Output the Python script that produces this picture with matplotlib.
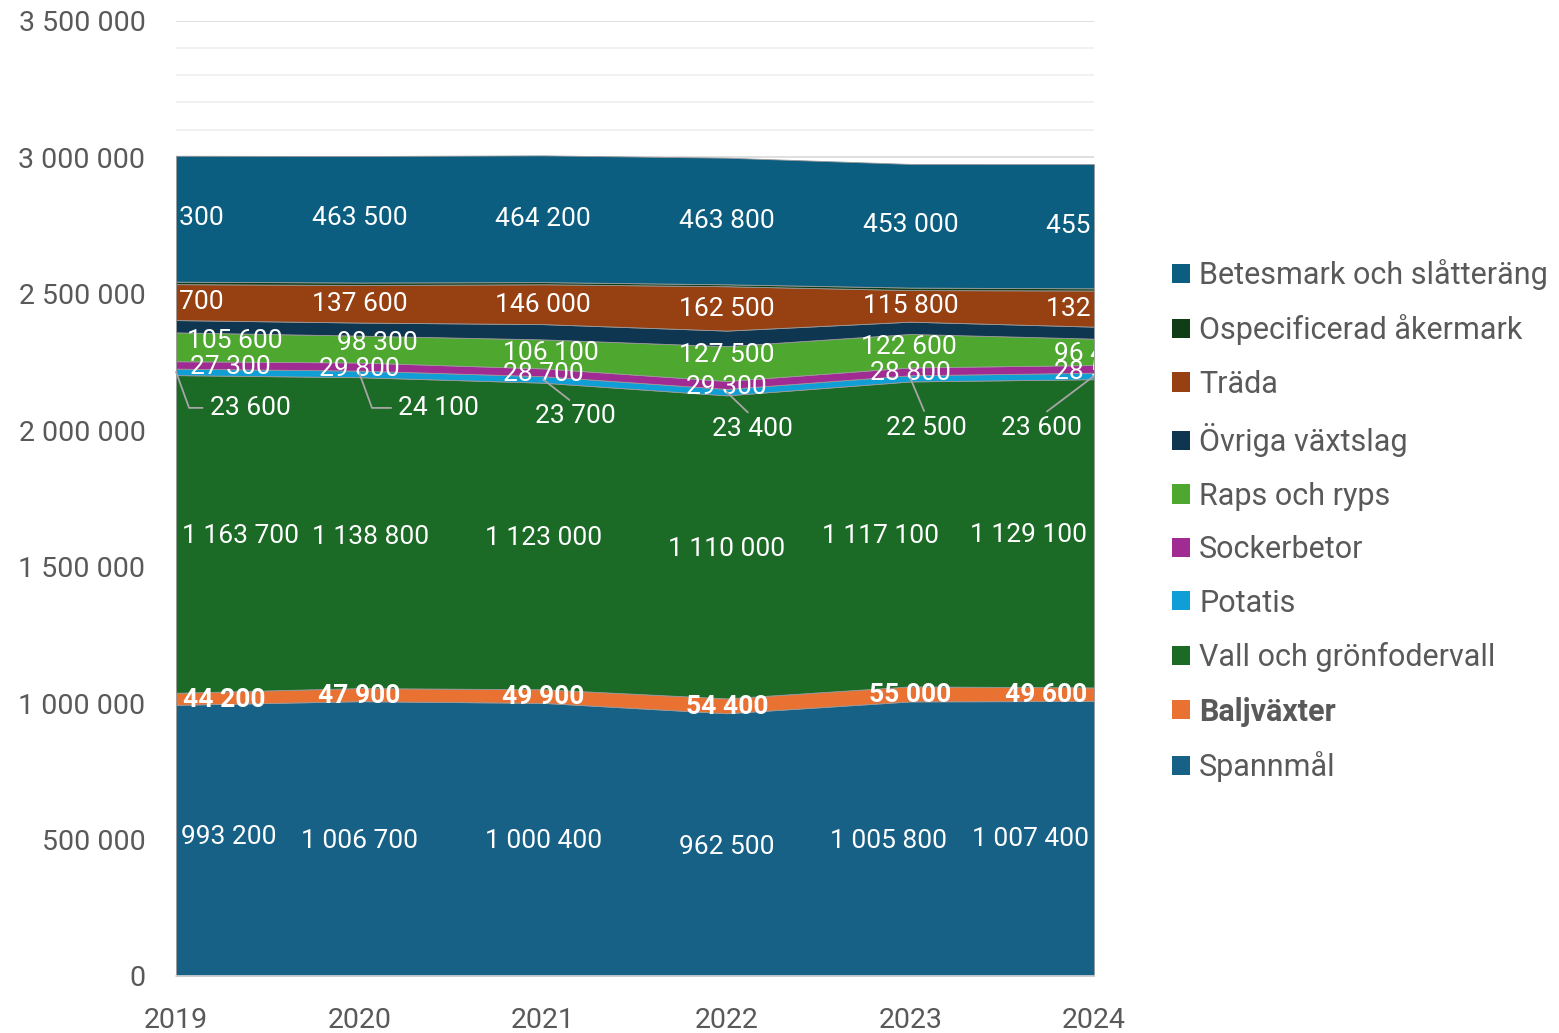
import numpy as np
import matplotlib.pyplot as plt
from matplotlib.patches import Patch
from matplotlib.ticker import MultipleLocator, FuncFormatter

plt.rcParams['font.family'] = ['Roboto', 'DejaVu Sans']

years = [2019, 2020, 2021, 2022, 2023, 2024]

# series, bottom to top
names = ["Spannmål", "Baljväxter", "Vall och grönfodervall", "Potatis", "Sockerbetor",
         "Raps och ryps", "Övriga växtslag", "Träda", "Ospecificerad åkermark",
         "Betesmark och slåtteräng"]
spannmal = [993200, 1006700, 1000400, 962500, 1005800, 1007400]
baljvaxter = [44200, 47900, 49900, 54400, 55000, 49600]
vall = [1163700, 1138800, 1123000, 1110000, 1117100, 1129100]
potatis = [23600, 24100, 23700, 23400, 22500, 23600]
sockerbetor = [27300, 29800, 28700, 29300, 28800, 28500]
raps = [105600, 98300, 106100, 127500, 122600, 96400]
ovriga = [45000, 48000, 56000, 57000, 45000, 44000]
trada = [131700, 137600, 146000, 162500, 115800, 132400]
ospec = [9000, 9000, 8000, 7000, 9000, 8000]
betesmark = [461300, 463500, 464200, 463800, 453000, 455400]

series = [spannmal, baljvaxter, vall, potatis, sockerbetor, raps, ovriga, trada, ospec, betesmark]
colors = ["#176086", "#E97132", "#1B6A25", "#0F9ED5", "#A02B93", "#4EA72E",
          "#0E3650", "#974012", "#0F3D16", "#0B5E80"]

fig = plt.figure(figsize=(15.59, 10.33), dpi=100)
ax = fig.add_axes([176/1559, 57/1033, 918/1559, 955.5/1033])

data = np.array(series, dtype=float)
ax.stackplot(years, data, colors=colors, linewidth=0.6, edgecolor='#9a9a9a', zorder=2)

ax.set_xlim(2019, 2024)
ax.set_ylim(0, 3500000)
ax.yaxis.set_major_locator(MultipleLocator(500000))
ax.yaxis.set_minor_locator(MultipleLocator(100000))
ax.yaxis.set_major_formatter(FuncFormatter(lambda v, p: f"{int(v):,}".replace(",", " ")))
ax.grid(axis='y', which='major', color='#d9d9d9', lw=1.2, zorder=0)
ax.grid(axis='y', which='minor', color='#efefef', lw=1.2, zorder=0)
ax.set_axisbelow(True)
ax.set_xticks(years)
for s in ['top', 'right', 'left']:
    ax.spines[s].set_visible(False)
ax.spines['bottom'].set_color('#d9d9d9')
ax.spines['bottom'].set_linewidth(1.2)
ax.tick_params(axis='both', which='both', length=0, labelsize=20.5, labelcolor='#595959')
ax.tick_params(axis='y', pad=22)
ax.tick_params(axis='x', pad=22)

# data labels: offsets in pixels (dx, dy) from the middle of each band
label_dx = {
    0: [53, 0, 0, 0, -22, -64],
    1: [48, 0, 0, 0, 0, -48],
    2: [64, 11, 0, 0, -30, -66],
    4: [54, 0, 0, 0, 0, 0],
    5: [59, 18, 8, 0, -2, 0],
    7: [0, 0, 0, 0, 0, 0],
    9: [0, 0, 0, 0, 0, 0],
}
label_dy = {
    0: [3, -2, -2, -2, -2, -1],
    1: [-1, -1, -1, -1, -1, -1],
    2: [-2, -4, -2, -2, -2, -2],
    4: [-2, -2, -2, -2, -2, -3],
    5: [6, 6, 1, 9, 4, -2],
    7: [0, 0, -1, -1, 0, 0],
    9: [1, 1, 0, 0, 1, 0],
}
cum = np.cumsum(data, axis=0)
bottoms = cum - data
fmt = lambda v: f"{int(v):,}".replace(",", " ")

for k in label_dx:
    for j, yr in enumerate(years):
        mid = bottoms[k, j] + data[k, j] / 2
        t = ax.annotate(fmt(data[k, j]), (yr, mid),
                        xytext=(label_dx[k][j], label_dy[k][j]), textcoords='offset pixels',
                        ha='center', va='center', fontsize=19, color='white',
                        fontweight='bold' if k == 1 else 'normal',
                        annotation_clip=False, zorder=5)
        t.set_clip_on(True)
        t.set_clip_box(ax.bbox)

# potatis labels with leader lines
pot_dx = [74, 79, 32, 26, 16, -53]
pot_dy = [-36, -34, -37, -37, -50, -52]
for j, yr in enumerate(years):
    mid = bottoms[3, j] + data[3, j] / 2
    if j < 2:
        ap = dict(arrowstyle='-', color='#a6a6a6', lw=1.3, relpos=(0, 0.5),
                  shrinkA=3, shrinkB=0, connectionstyle='angle,angleA=0,angleB=-70,rad=0')
    else:
        ap = dict(arrowstyle='-', color='#a6a6a6', lw=1.3, relpos=(0.5, 1),
                  shrinkA=2, shrinkB=0)
    ax.annotate(fmt(data[3, j]), (yr, mid), xytext=(pot_dx[j], pot_dy[j]),
                textcoords='offset pixels', ha='center', va='center', fontsize=19,
                color='white', arrowprops=ap, annotation_clip=False, zorder=5)

handles = [Patch(facecolor=colors[i], edgecolor='none') for i in range(len(names) - 1, -1, -1)]
labels = [names[i] for i in range(len(names) - 1, -1, -1)]
leg = fig.legend(handles, labels, loc='upper left', bbox_to_anchor=(1172/1559, 1 - 259/1033),
                 frameon=False, fontsize=22, labelcolor='#595959', handlelength=0.59,
                 handleheight=0.59, handletextpad=0.3, labelspacing=0.8, borderaxespad=0,
                 borderpad=0)
leg.get_texts()[8].set_fontweight('bold')

fig.savefig('out.png', dpi=100)
